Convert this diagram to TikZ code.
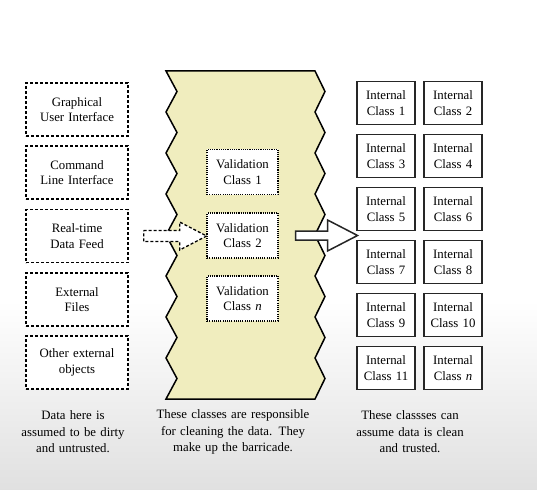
\documentclass[tikz,border=0pt]{standalone}
\usepackage{fontspec}
\setmainfont{Liberation Serif}
\usepackage{tikz}
\usetikzlibrary{positioning}
\definecolor{wall}{RGB}{240,237,190}
\tikzstyle{source} = [rectangle, minimum width=102pt, minimum height=53pt,
text centered, text width=95pt, draw=black, line width=1.3pt, dash pattern=on 3pt off 2pt, fill=white]
\tikzstyle{validate} = [rectangle, minimum width=67pt, minimum height=45pt,
text centered, text width=64pt, draw=black, line width=1.4pt, dash pattern=on 1.1pt off 1.1pt, fill=white]
\tikzstyle{internal} = [rectangle, minimum width=58pt, minimum height=43pt,
text centered, text width=56pt, draw=black!85, line width=1.7pt, fill=white, inner sep=1pt]
\tikzstyle{note} = [text centered, text width=170pt, font=\fontsize{12.8}{16.5}\selectfont]
\tikzstyle{barricade} = [draw=black, line width=1.5pt, fill=wall, line join=miter]
\tikzstyle{inarrow} = [draw=black, line width=1.3pt, dash pattern=on 3pt off 2pt, fill=white, line join=miter]
\tikzstyle{outarrow} = [draw=black!85, line width=1.5pt, fill=white, line join=miter]

\begin{document}
\begin{tikzpicture}[x=1pt, y=-1pt, node distance=63pt, font=\fontsize{12.8}{15.5}\selectfont]

% ------------------------- background -------------------------
\useasboundingbox (0,0) rectangle (537,489);
\fill[white] (0,0) rectangle (537,300);
\shade[top color=white, bottom color=black!12] (0,300) rectangle (537,489);

% ----- barricade
\draw[barricade] (166,71) -- (315,71)
  \foreach \i in {0,...,7} { -- (325,{71+41*\i+20.5}) -- (315,{71+41*\i+41}) }
  -- (166,399)
  \foreach \i in {7,...,0} { -- (177,{71+41*\i+20.5}) -- (166,{71+41*\i}) }
  -- cycle;

% ------------------------- nodes -------------------------

% ----- node: outside sources
\node(gui)[source] at (77,109.5) {Graphical\\User Interface};
\node(cli)[source, below of=gui]{Command\\Line Interface};
\node(feed)[source, below of=cli, yshift=-0.5pt]{Real-time\\Data Feed};
\node(files)[source, below of=feed, yshift=-0.5pt]{External\\Files};
\node(other)[source, below of=files]{Other external\\objects};
% ----- node: validation classes
\node(val1)[validate] at (242.5,172) {Validation\\Class 1};
\node(val2)[validate, below of=val1, yshift=-0.5pt]{Validation\\Class 2};
\node(valn)[validate, below of=val2]{Validation\\Class \textit{n}};
% ----- node: internal classes
\node(int1)[internal] at (386,103) {Internal\\Class 1};
\node(int2)[internal, right of=int1, node distance=67pt]{Internal\\Class 2};
\node(int3)[internal, below of=int1, node distance=53pt]{Internal\\Class 3};
\node(int4)[internal, right of=int3, node distance=67pt]{Internal\\Class 4};
\node(int5)[internal, below of=int3, node distance=53pt]{Internal\\Class 5};
\node(int6)[internal, right of=int5, node distance=67pt]{Internal\\Class 6};
\node(int7)[internal, below of=int5, node distance=53pt]{Internal\\Class 7};
\node(int8)[internal, right of=int7, node distance=67pt]{Internal\\Class 8};
\node(int9)[internal, below of=int7, node distance=53pt]{Internal\\Class 9};
\node(int10)[internal, right of=int9, node distance=67pt]{Internal\\Class 10};
\node(int11)[internal, below of=int9, node distance=53pt]{Internal\\Class 11};
\node(intn)[internal, right of=int11, node distance=67pt]{Internal\\Class \textit{n}};
% ----- node: captions
\node(dirty)[note] at (73,432) {Data here is\\assumed to be dirty\\and untrusted.};
\node(clean)[note] at (233,432) {These classes are responsible\\for cleaning the data. They\\make up the barricade.};
\node(trust)[note] at (410,432) {These classses can\\assume data is clean\\and trusted.};

% ------------------------- connections -------------------------
\coordinate(intail) at ([xshift=15pt]feed.east);
\draw[inarrow] (intail) ++(0,-5.5) -- ++(36,0) -- ++(0,-8.5) -- ++(27,14)
  -- ++(-27,14) -- ++(0,-8.5) -- ++(-36,0) -- cycle;
\coordinate(outtail) at ([xshift=17pt]val2.east);
\draw[outarrow] (outtail) ++(0,-4.5) -- ++(32,0) -- ++(0,-11) -- ++(30,15.5)
  -- ++(-30,15.5) -- ++(0,-11) -- ++(-32,0) -- cycle;

\end{tikzpicture}
\end{document}
